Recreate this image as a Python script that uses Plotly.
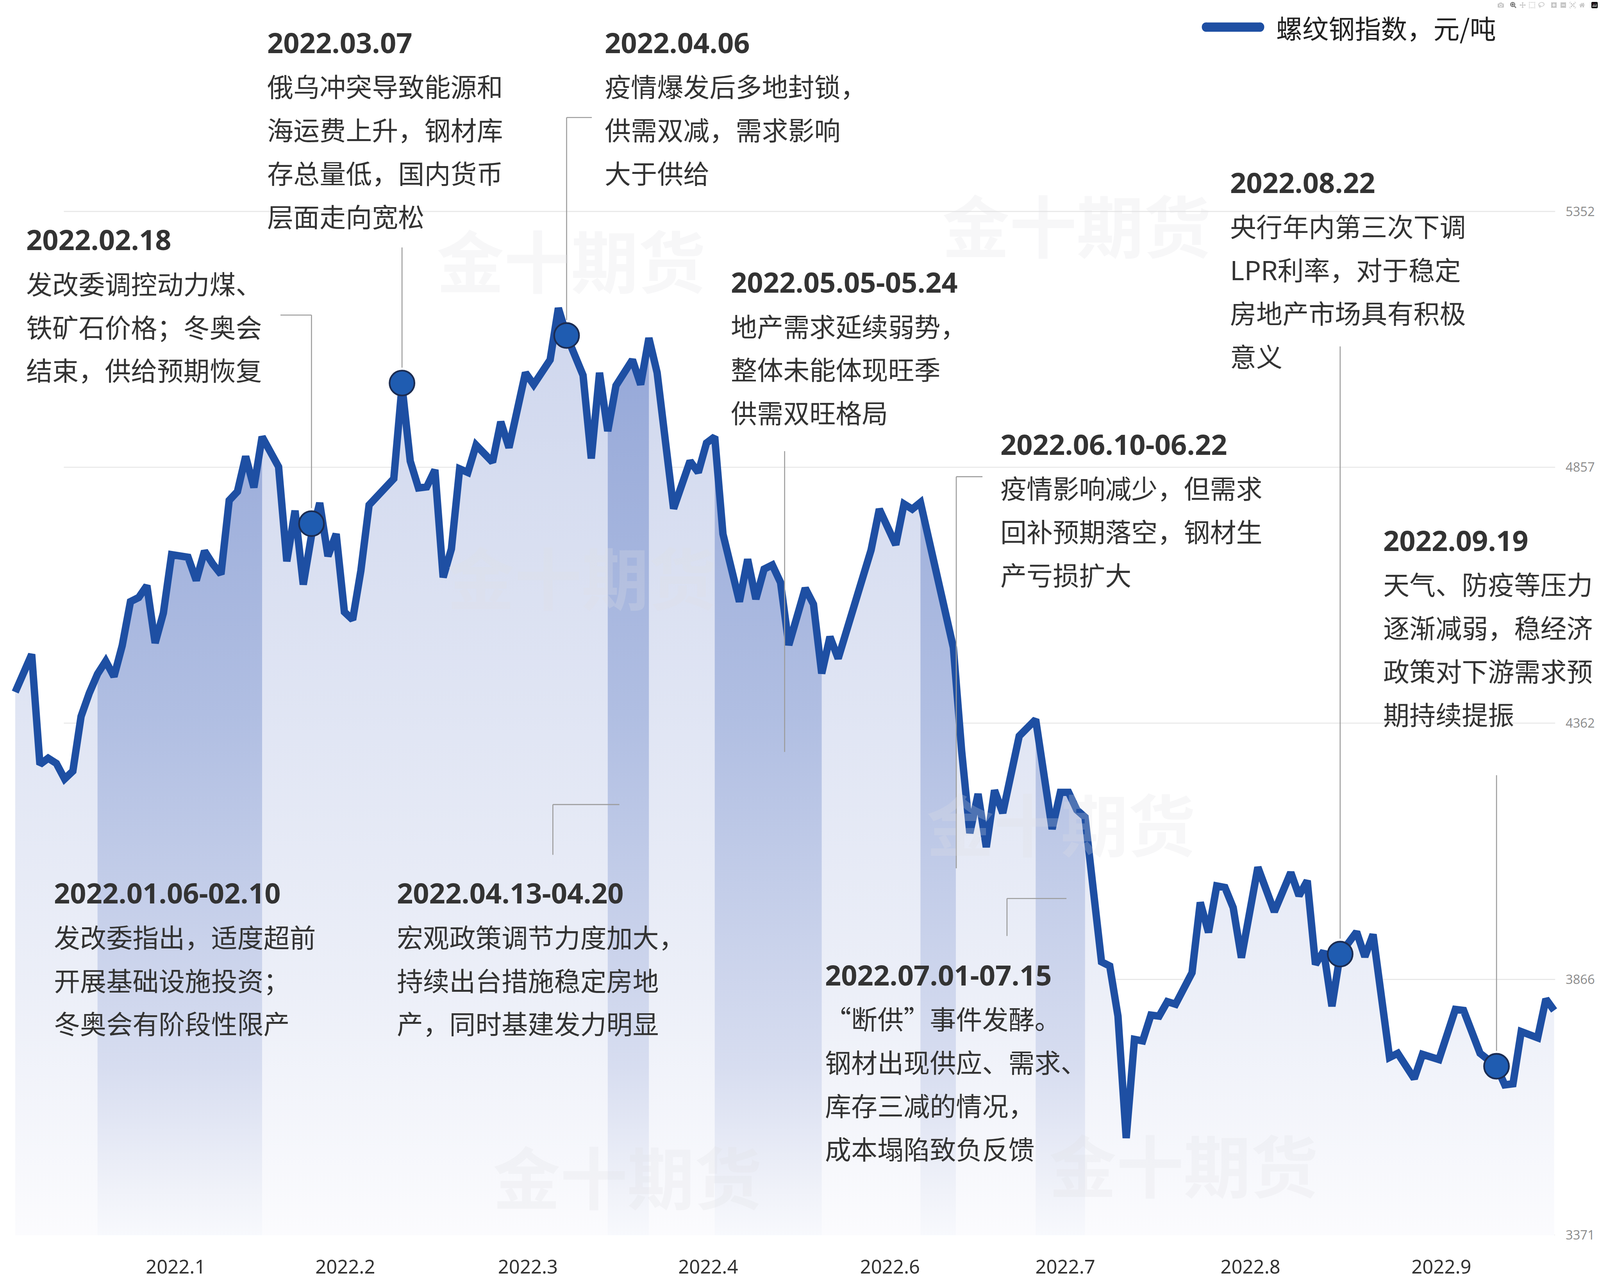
import numpy as np
import plotly.graph_objects as go

# ---------------- data ----------------
# trading-day number, 0 = 2022-01-04
day = [-8, -6, -5, -4, -3, -2, -1, 0, 1, 2, 3, 4, 5, 6, 7, 8, 9, 10, 11, 12, 13, 14, 15, 16, 17,
       18, 19, 20, 21, 22, 23, 24, 25, 26, 27, 28, 29, 30, 31, 32, 33, 34, 35, 38, 39, 40, 41, 42,
       43, 44, 45, 46, 47, 48, 50, 51, 52, 54, 55, 57, 58, 59, 61, 62, 63, 64, 65, 67, 68, 69, 70,
       72, 74, 75, 76, 77, 78, 80, 81, 82, 83, 84, 85, 86, 88, 89, 90, 91, 92, 96, 97, 99, 100,
       101, 102, 106, 107, 108, 109, 110, 111, 112, 114, 116, 118, 119, 120, 121, 122, 124, 125,
       126, 127, 128, 129, 130, 131, 132, 133, 135, 136, 137, 138, 139, 140, 141, 143, 145, 147,
       148, 149, 150, 151, 152, 153, 155, 156, 157, 159, 160, 162, 163, 165, 167, 168, 169, 170,
       172, 173, 174, 175, 177, 178, 179]
price = [4422, 4495, 4282, 4294, 4284, 4254, 4269, 4375, 4420, 4457, 4482, 4452, 4512, 4597, 4605,
         4628, 4517, 4575, 4688, 4685, 4683, 4638, 4695, 4670, 4650, 4793, 4810, 4878, 4818, 4916,
         4883, 4858, 4675, 4773, 4630, 4725, 4788, 4685, 4728, 4577, 4562, 4657, 4784, 4835, 5015,
         4869, 4817, 4819, 4852, 4644, 4699, 4854, 4847, 4900, 4867, 4945, 4895, 5040, 5017, 5065,
         5165, 5112, 5035, 4874, 5040, 4927, 5015, 5065, 5017, 5107, 5040, 4777, 4869, 4847, 4904,
         4916, 4728, 4597, 4679, 4602, 4660, 4668, 4634, 4513, 4623, 4592, 4458, 4529, 4487, 4697,
         4776, 4707, 4786, 4776, 4789, 4508, 4309, 4149, 4225, 4122, 4232, 4188, 4337, 4369, 4157,
         4228, 4228, 4194, 4180, 3900, 3892, 3795, 3559, 3750, 3747, 3797, 3795, 3823, 3818, 3879,
         4015, 3957, 4047, 4044, 4005, 3908, 4083, 3997, 4073, 4028, 4057, 3895, 3921, 3814, 3915,
         3958, 3910, 3953, 3715, 3723, 3674, 3721, 3711, 3808, 3806, 3763, 3723, 3698, 3662, 3664,
         3765, 3753, 3828, 3806]

y_ticks = [3371, 3866, 4362, 4857, 5352]
x_labels = ["2022.1", "2022.2", "2022.3", "2022.4", "2022.6", "2022.7", "2022.8", "2022.9"]
x_label_pos = [11.5, 32.1, 54.3, 76.2, 98.3, 119.6, 142.1, 165.3]

event_days = [28, 39, 59, 153, 172]
event_price = [4748, 5020, 5112, 3915, 3698]

band_days = [(2, 22), (64, 69), (77, 90), (102, 106.3), (116, 122)]

legend_name = "螺纹钢指数，元/吨"
watermark = "金十期货"

notes = [
    ("2022.03.07", ["俄乌冲突导致能源和", "海运费上升，钢材库", "存总量低，国内货币", "层面走向宽松"]),
    ("2022.04.06", ["疫情爆发后多地封锁，", "供需双减，需求影响", "大于供给"]),
    ("2022.02.18", ["发改委调控动力煤、", "铁矿石价格；冬奥会", "结束，供给预期恢复"]),
    ("2022.05.05-05.24", ["地产需求延续弱势，", "整体未能体现旺季", "供需双旺格局"]),
    ("2022.08.22", ["央行年内第三次下调", "LPR利率，对于稳定", "房地产市场具有积极", "意义"]),
    ("2022.06.10-06.22", ["疫情影响减少，但需求", "回补预期落空，钢材生", "产亏损扩大"]),
    ("2022.09.19", ["天气、防疫等压力", "逐渐减弱，稳经济", "政策对下游需求预", "期持续提振"]),
    ("2022.01.06-02.10", ["发改委指出，适度超前", "开展基础设施投资；", "冬奥会有阶段性限产"]),
    ("2022.04.13-04.20", ["宏观政策调节力度加大，", "持续出台措施稳定房地", "产，同时基建发力明显"]),
    ("2022.07.01-07.15", ["“断供”事件发酵。", "钢材出现供应、需求、", "库存三减的情况，", "成本塌陷致负反馈"]),
]

# ---------------- layout geometry ----------------
W, H = 4763, 3273
ML, MR, MT, MB = 0, 103, 0, 78
PW, PH = W - ML - MR, H - MT - MB
XMIN, XMAX = -9.851, 180.35
YMIN, YMAX = 3371, 5761.2

LINE = "#1e4fa3"
TXT = "#333333"
GRID = "#e7e7e7"
LEAD = "#9c9c9c"


def px(x):
    return (x - ML) / PW


def py(y):
    return 1 - (y - MT) / PH


def dpx(d):
    return ML + (d - XMIN) / (XMAX - XMIN) * PW


def vpy(v):
    return MT + (YMAX - v) / (YMAX - YMIN) * PH


fig = go.Figure()

main_cs = [[0, "rgb(252,252,254)"], [0.27, "rgb(236,239,248)"], [1, "rgb(206,214,237)"]]
band_cs = [[0, "rgb(250,251,254)"], [0.06, "rgb(240,242,249)"], [0.19, "rgb(215,221,240)"],
           [0.56, "rgb(176,190,226)"], [1, "rgb(146,165,215)"]]

fig.add_trace(go.Scatter(
    x=day, y=price, mode="lines", line=dict(width=0), fill="tozeroy",
    fillgradient=dict(type="vertical", colorscale=main_cs, start=3371, stop=5200),
    hoverinfo="skip", showlegend=False))

for a, b in band_days:
    xs = [a] + [d for d in day if a < d < b] + [b]
    ys = [float(v) for v in np.interp(xs, day, price)]
    fig.add_trace(go.Scatter(
        x=[float(v) for v in xs], y=ys, mode="lines", line=dict(width=0), fill="tozeroy",
        fillgradient=dict(type="vertical", colorscale=band_cs, start=3371, stop=5200),
        hoverinfo="skip", showlegend=False))

fig.add_trace(go.Scatter(
    x=day, y=price, mode="lines", name=legend_name,
    line=dict(color=LINE, width=22), showlegend=False))

fig.add_trace(go.Scatter(
    x=event_days, y=event_price, mode="markers",
    marker=dict(size=74, color="#1f5cb1", line=dict(color="#1b2c52", width=5)),
    showlegend=False))

shapes = []
for v in y_ticks:
    shapes.append(dict(type="line", xref="paper", yref="y", x0=px(190), x1=px(4630), y0=v, y1=v,
                       line=dict(color=GRID, width=3), layer="below"))


def seg(x0, y0, x1, y1):
    shapes.append(dict(type="line", xref="paper", yref="paper", x0=px(x0), y0=py(y0),
                       x1=px(x1), y1=py(y1), line=dict(color=LEAD, width=3), layer="above"))


mx = [dpx(d) for d in event_days]
my = [vpy(v) for v in event_price]
r = 40
seg(835, 815, mx[0], 815); seg(mx[0], 815, mx[0], my[0] - r)          # Feb 18
seg(mx[1], 640, mx[1], my[1] - r)                                     # Mar 7
seg(mx[2], 304, 1762, 304); seg(mx[2], 304, mx[2], my[2] - r)          # Apr 6
seg(2336, 1167, 2336, 1945)                                           # May
seg(2847, 1233, 2925, 1233); seg(2847, 1233, 2847, 2246)              # Jun
seg(mx[3], 896, mx[3], my[3] - r)                                     # Aug 22
seg(mx[4], 2005, mx[4], my[4] - r)                                    # Sep 19
seg(1646, 2081, 1844, 2081); seg(1646, 2081, 1646, 2211)              # Apr 13-20
seg(2998, 2324, 3175, 2324); seg(2998, 2324, 2998, 2421)              # Jul

# legend swatch
lx0, lx1, ly, lr = 3590, 3752, 70, 12
shapes.append(dict(type="rect", xref="paper", yref="paper", x0=px(lx0), x1=px(lx1),
                   y0=py(ly + lr), y1=py(ly - lr), fillcolor=LINE, line=dict(width=0)))
for cx in (lx0, lx1):
    shapes.append(dict(type="circle", xref="paper", yref="paper", x0=px(cx - lr), x1=px(cx + lr),
                       y0=py(ly + lr), y1=py(ly - lr), fillcolor=LINE, line=dict(width=0)))

annotations = []
# faint watermarks (only in clear areas)
wm = [(1700, 668), (3205, 577), (1732, 1488), (3159, 2126), (1868, 3038), (3524, 3008)]
for (cx, cy) in wm:
    annotations.append(dict(x=px(cx), y=py(cy), xref="paper", yref="paper",
                            text=watermark, showarrow=False, xanchor="center", yanchor="middle",
                            font=dict(family="Noto Sans CJK SC", size=200,
                                      color="rgba(225,225,228,0.25)", weight=700)))

note_pos = [(793, 109), (1798, 109), (76, 619), (2173, 729), (3660, 471), (2976, 1148),
            (4116, 1397), (158, 2309), (1179, 2309), (2454, 2521)]
LS = 112
for (title, lines), (x0, y0) in zip(notes, note_pos):
    annotations.append(dict(x=px(x0), y=py(y0), xref="paper", yref="paper", text=title,
                            showarrow=False, xanchor="left", yanchor="middle",
                            font=dict(family="Open Sans", size=84, color=TXT, weight=700)))
    for i, t in enumerate(lines):
        annotations.append(dict(x=px(x0), y=py(y0 + LS * (i + 1)), xref="paper", yref="paper",
                                text=t, showarrow=False, xanchor="left", yanchor="middle",
                                font=dict(family="Noto Sans CJK SC", size=78, color=TXT)))

annotations.append(dict(x=px(3797), y=py(70), xref="paper", yref="paper", text=legend_name,
                        showarrow=False, xanchor="left", yanchor="middle",
                        font=dict(family="Noto Sans CJK SC", size=78, color="#222222")))

fig.update_layout(
    width=W, height=H, margin=dict(l=ML, r=MR, t=MT, b=MB, pad=0),
    paper_bgcolor="white", plot_bgcolor="white", showlegend=False,
    shapes=shapes, annotations=annotations,
    xaxis=dict(range=[XMIN, XMAX], tickvals=x_label_pos, ticktext=x_labels, showgrid=False,
               zeroline=False, showline=False, ticks="", ticklabelstandoff=48,
               tickfont=dict(family="Noto Sans", size=57, color=TXT)),
    yaxis=dict(range=[YMIN, YMAX], side="right", tickvals=y_ticks, ticktext=[str(v) for v in y_ticks],
               showgrid=False, zeroline=False, showline=False, ticks="",
               tickfont=dict(family="Open Sans", size=38, color="#8a8a8a")),
)

# If the browser viewport is smaller than the figure, re-lay it out to fill the viewport,
# keeping every element at the same relative position.
fit_js = """
(function(){
var gd = document.getElementById('{plot_id}');
var de = document.documentElement, bd = document.body;
de.style.margin = '0'; bd.style.margin = '0';
de.style.overflow = 'hidden'; bd.style.overflow = 'hidden';
var W0 = %d, H0 = %d;
var vw = window.innerWidth, vh = window.innerHeight;
var sx = Math.min(1, vw / W0), sy = Math.min(1, vh / H0);
if (!(vw > 0 && vh > 0) || (sx > 0.999 && sy > 0.999)) { return; }
var k = Math.min(sx, sy);
function cp(o) { return Object.assign({}, o || {}); }
var data = gd.data.map(function(t) {
  var n = cp(t);
  if (t.line) { n.line = cp(t.line); if (n.line.width) { n.line.width *= k; } }
  if (t.marker) {
    n.marker = cp(t.marker);
    if (n.marker.size) { n.marker.size *= k; }
    if (t.marker.line) { n.marker.line = cp(t.marker.line); if (n.marker.line.width) { n.marker.line.width *= k; } }
  }
  return n;
});
var L = cp(gd.layout);
L.width = Math.floor(vw); L.height = Math.floor(vh);
var m = cp(L.margin);
m.l = (m.l || 0) * sx; m.r = (m.r || 0) * sx; m.t = (m.t || 0) * sy; m.b = (m.b || 0) * sy; m.pad = 0;
L.margin = m;
L.annotations = (L.annotations || []).map(function(a) {
  var n = cp(a); n.font = cp(a.font); if (n.font.size) { n.font.size *= k; } return n; });
L.shapes = (L.shapes || []).map(function(s) {
  var n = cp(s); n.line = cp(s.line); if (n.line.width) { n.line.width *= k; } return n; });
['xaxis', 'yaxis'].forEach(function(ax) {
  var A = cp(L[ax]); A.tickfont = cp(A.tickfont);
  if (A.tickfont.size) { A.tickfont.size *= k; }
  if (A.ticklabelstandoff) { A.ticklabelstandoff *= (ax === 'xaxis' ? sy : sx); }
  L[ax] = A; });
Plotly.newPlot(gd, data, L);
})();
""" % (W, H)

fig.write_html("out.html", post_script=fit_js)
